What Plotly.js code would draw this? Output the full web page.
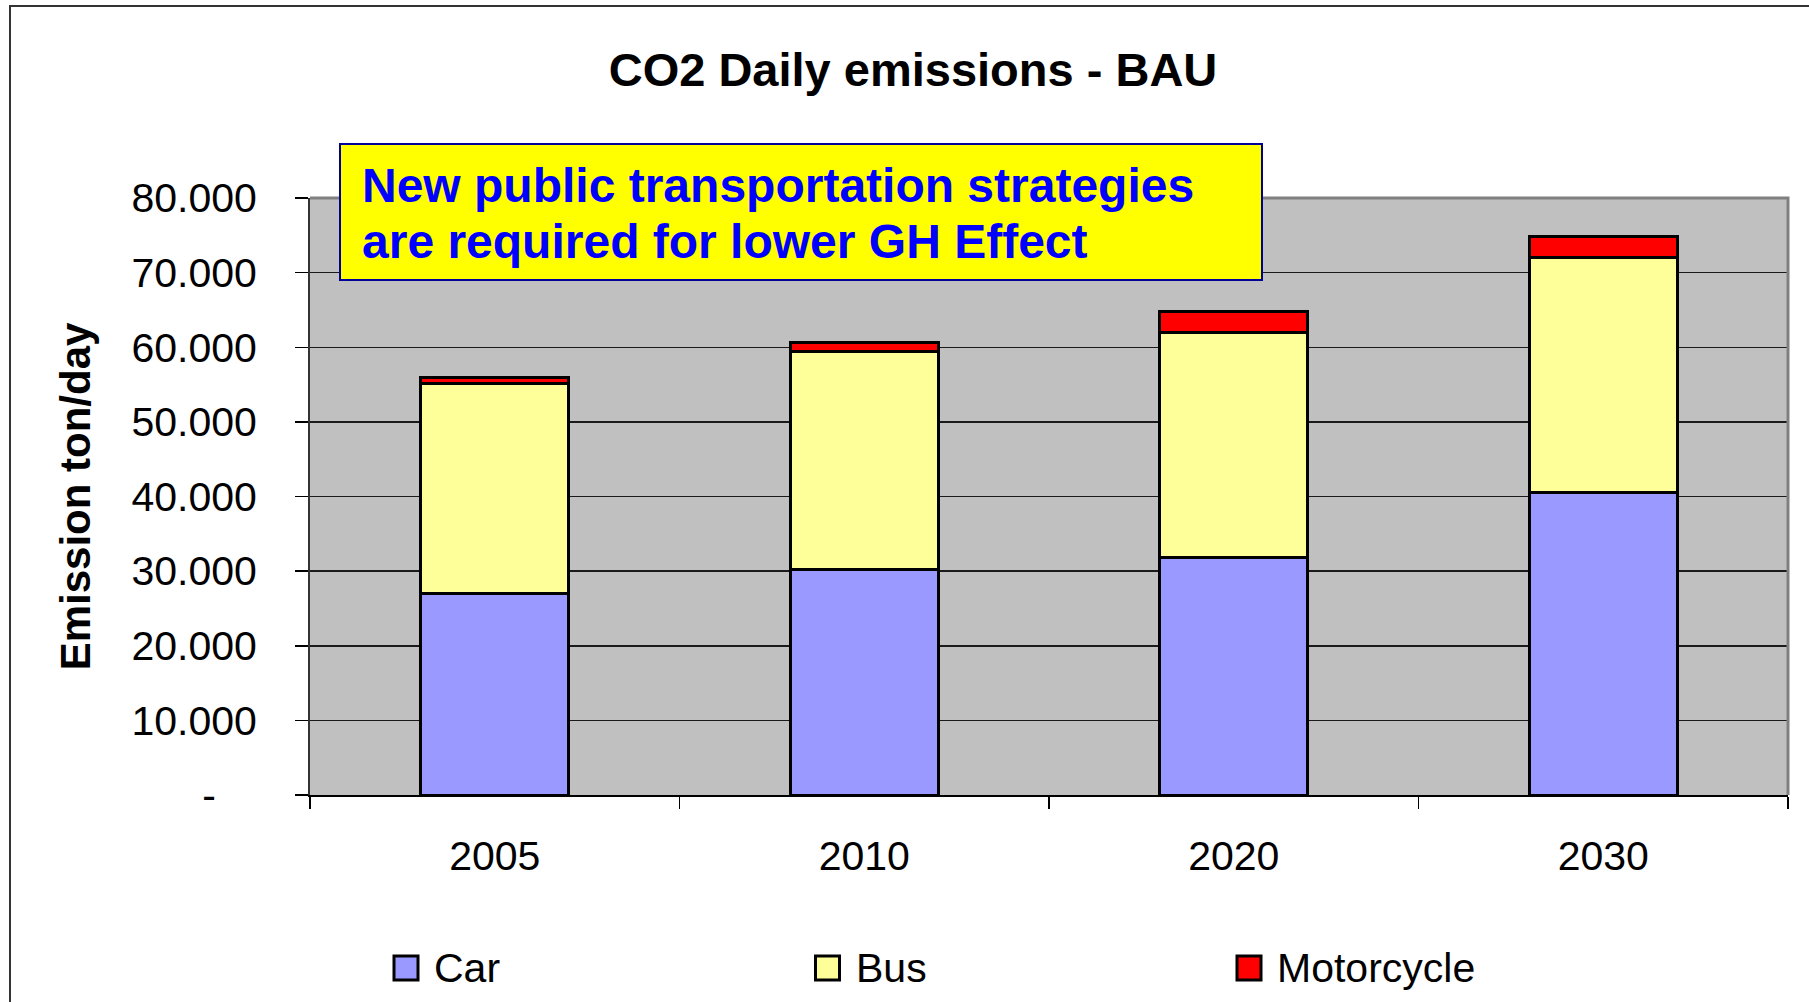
<!DOCTYPE html>
<html>
<head>
<meta charset="utf-8">
<script src="https://cdn.plot.ly/plotly-3.0.1.min.js"></script>
<style>
  html, body { margin: 0; padding: 0; background: #ffffff; }
  #chart { width: 1809px; height: 1002px; }
</style>
</head>
<body>
<div id="chart"></div>
<script>
// ---- Data ----
const years = ['2005', '2010', '2020', '2030'];
const seriesNames = ['Car', 'Bus', 'Motorcycle'];
const carValues = [27000, 30200, 31800, 40600];
const busValues = [28100, 29200, 30200, 31400];
const motorcycleValues = [800, 1300, 2800, 2800];
const yTickValues = [0, 10000, 20000, 30000, 40000, 50000, 60000, 70000, 80000];
const yTickLabels = ['-', '10.000', '20.000', '30.000', '40.000', '50.000', '60.000', '70.000', '80.000'];
const chartTitle = 'CO2 Daily emissions - BAU';
const yAxisTitle = 'Emission ton/day';
const noteLines = ['New public transportation strategies', 'are required for lower GH Effect'];

// ---- Styling / layout ----
const FONT = 'Liberation Sans, Arial, Helvetica, sans-serif';
const colors = ['#9999FF', '#FFFF99', '#FF0000'];
const W = 1809, H = 1002;
const L = 310, R = 1788, T = 198, B = 795;
const pw = R - L, ph = B - T;
const px = x => (x - L) / pw;
const py = y => (B - y) / ph;

const valueSets = [carValues, busValues, motorcycleValues];
const traces = seriesNames.map((name, i) => ({
  type: 'bar',
  name: name,
  x: years,
  y: valueSets[i],
  marker: { color: colors[i], line: { color: '#000000', width: 3 } },
  showlegend: false,
  hoverinfo: 'skip'
}));

const nbsp = '\u00a0';
const tickText = yTickLabels.map(t => t === '-' ? t + nbsp.repeat(3) + '\u2006' : t);

const shapes = [
  // outer chart frame
  { type: 'rect', xref: 'paper', yref: 'paper', x0: px(10), x1: px(1830), y0: py(1030), y1: py(6),
    line: { color: '#333333', width: 2 }, fillcolor: 'rgba(0,0,0,0)', layer: 'above' },
  // plot area border (top & right)
  { type: 'path', xref: 'paper', yref: 'paper', path: 'M 0,1 L 1,1 L 1,0',
    line: { color: '#808080', width: 3 }, layer: 'above' },
  // note box
  { type: 'rect', xref: 'paper', yref: 'paper', x0: px(340), x1: px(1262), y0: py(280), y1: py(144),
    fillcolor: '#FFFF00', line: { color: '#000099', width: 2 }, layer: 'above' }
];

const annotations = [];
noteLines.forEach((line, i) => {
  annotations.push({
    xref: 'paper', yref: 'paper', x: px(360), y: py(185 + i * 56),
    xanchor: 'left', yanchor: 'middle', showarrow: false, text: line,
    font: { family: FONT, size: 48, color: '#0000FF', weight: 'bold' }
  });
});

// manual legend
const legX0 = 393, legStep = 421.5, legY = 968, sw = 24;
seriesNames.forEach((name, i) => {
  const x0 = legX0 + i * legStep;
  shapes.push({ type: 'rect', xref: 'paper', yref: 'paper',
    x0: px(x0 + 1), x1: px(x0 + 1 + sw), y0: py(legY + sw / 2), y1: py(legY - sw / 2),
    fillcolor: colors[i], line: { color: '#000000', width: 3 }, layer: 'above' });
  annotations.push({ xref: 'paper', yref: 'paper', x: px(x0 + 39), y: py(legY),
    xanchor: 'left', yanchor: 'middle', showarrow: false, text: name,
    font: { family: FONT, size: 41, color: '#000000' } });
});

const layout = {
  width: W, height: H,
  margin: { l: L, r: W - R, t: T, b: H - B, pad: 0 },
  paper_bgcolor: '#FFFFFF',
  plot_bgcolor: '#C0C0C0',
  barmode: 'stack',
  bargap: 0.6,
  showlegend: false,
  font: { family: FONT, color: '#000000' },
  title: {
    text: chartTitle,
    font: { family: FONT, size: 47, color: '#000000', weight: 'bold' },
    xref: 'container', yref: 'container', x: 913 / W, xanchor: 'center',
    y: 1 - 70 / H, yanchor: 'middle'
  },
  xaxis: {
    type: 'category',
    tickson: 'boundaries',
    ticks: 'outside', ticklen: 12, tickwidth: 1.5, tickcolor: '#000000',
    showline: true, linecolor: '#000000', linewidth: 2,
    showgrid: false, zeroline: false,
    tickfont: { family: FONT, size: 41, color: '#000000' },
    ticklabelstandoff: 24,
    fixedrange: true
  },
  yaxis: {
    range: [0, 80000],
    tickmode: 'array', tickvals: yTickValues, ticktext: tickText,
    ticks: 'outside', ticklen: 13, tickwidth: 1.5, tickcolor: '#000000',
    showline: true, linecolor: '#333333', linewidth: 2,
    showgrid: true, gridcolor: '#1a1a1a', gridwidth: 1.5,
    zeroline: false,
    tickfont: { family: FONT, size: 41, color: '#000000' },
    ticklabelstandoff: 30,
    title: { text: yAxisTitle, font: { family: FONT, size: 42, color: '#000000', weight: 'bold' }, standoff: 28 },
    fixedrange: true
  },
  shapes: shapes,
  annotations: annotations
};

Plotly.newPlot('chart', traces, layout, { staticPlot: true, displayModeBar: false });
</script>
</body>
</html>
